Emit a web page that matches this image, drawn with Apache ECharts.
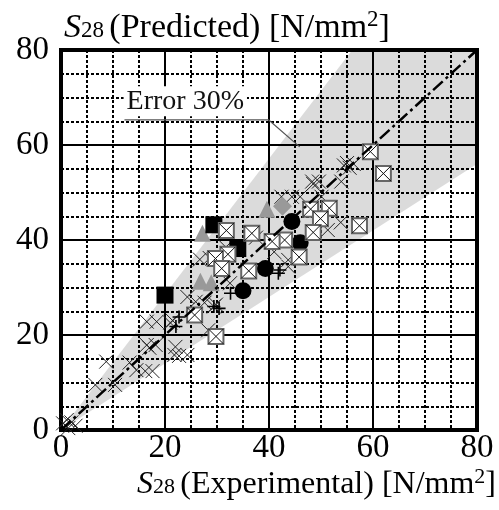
<!DOCTYPE html>
<html>
<head>
<meta charset="utf-8">
<script src="https://cdn.jsdelivr.net/npm/echarts@6/dist/echarts.min.js"></script>
<style>html,body{margin:0;padding:0;background:#fff}#c{width:499px;height:510px}</style>
</head>
<body>
<div id="c"></div>
<script>
// ---- data ----
const axisTicks = [0, 20, 40, 60, 80];
const errorBand = [[0, 0], [56, 80], [80, 80], [80, 56]];
const identityLine = [[0, 0], [80, 80]];
const leaderLine = [[12.2, 65.3], [39.9, 65.3], [45.9, 59.6]];
const labelPoint = [[23.9, 69.2]];

const crosses = [
  [0.4,1.4],[1.1,2.1],[2.0,1.6],[2.8,0.9],[1.4,0.4],
  [6.6,9.5],[10.4,9.5],[8.7,14.4],[13.2,14.2],[14.5,12.6],[16.2,12.4],[17.6,12.4],
  [16.5,17.9],[18.2,17.9],[17.0,17.3],[22.0,17.5],[21.8,15.8],[24.3,15.8],[22.7,15.6],
  [16.5,22.8],[18.4,22.8],[21.0,22.6],[21.5,23.0],
  [24.3,28.0],[25.9,27.0],[29.4,26.0],[28.3,21.0],[27.6,26.8],[29.8,26.4],
  [32.5,30.9],[26.7,35.9],[28.6,36.2],[31.7,38.5],
  [42.4,49.1],[44.4,49.1],[46.0,49.1],[50.1,49.1],[48.3,52.3],[49.6,52.3],[53.9,52.3],[48.5,51.8],
  [54.4,55.7],[55.5,55.2],[56.3,56.0],[55.0,56.2],
  [51.3,42.1],[53.8,43.7],[43.7,35.8],[43.7,34.4],[37.5,40.5],[41.0,37.5]
];
const pluses = [[42.1,33.7],[41.8,33.0],[32.6,28.8],[22.1,21.8],[30.4,25.6],[22.7,23.8],[29.4,26.0]];
const grayTriangles = [[27.2,41.4],[39.6,46.5],[26.8,31.3],[28.9,31.0]];
const grayDiamonds = [[42.6,47.1]];
const blackSquares = [[20.0,28.4],[29.4,43.2],[34.0,38.2]];
const blackCircles = [[44.4,43.9],[46.0,39.4],[39.3,34.0],[35.0,29.3]];
const boxedX = [
  [59.5,58.6],[62.0,54.0],[57.4,43.0],[51.6,46.7],[48.0,46.5],[49.9,44.5],[48.5,41.6],
  [45.8,36.4],[43.0,40.0],[40.6,39.7],[36.7,41.4],[31.8,42.0],[32.1,37.0],[29.7,36.1],
  [30.9,34.0],[36.1,33.5],[25.7,24.2],[29.8,19.7]
];

// ---- chart ----
const serif = 'Liberation Serif';
const chart = echarts.init(document.getElementById('c'));

function axis(extra) {
  return Object.assign({
    type: 'value',
    min: axisTicks[0],
    max: axisTicks[axisTicks.length - 1],
    interval: axisTicks[1] - axisTicks[0],
    axisLine: { show: false },
    axisTick: { show: false },
    splitLine: { show: true, lineStyle: { color: '#000', width: 2 } },
    minorTick: { show: false, splitNumber: 4 },
    minorSplitLine: { show: true, lineStyle: { color: '#000', width: 2, type: [3, 2] } }
  }, extra);
}

function richFor(size) {
  const sub = Math.round(size * 0.69);
  return {
    s: { fontFamily: serif, fontStyle: 'italic', fontSize: size, color: '#000', lineHeight: size + 6 },
    sub: { fontFamily: serif, fontSize: sub, color: '#000', lineHeight: sub + 2, padding: [5, 2, 0, 0] },
    n: { fontFamily: serif, fontSize: size, color: '#000', lineHeight: size + 6 },
    sup: { fontFamily: serif, fontSize: sub, color: '#000', lineHeight: sub + 1, verticalAlign: 'top' }
  };
}

const crossPath = 'path://M0,0L10,10M10,0L0,10';
const plusPath = 'path://M5,0L5,10M0,5L10,5';

chart.setOption({
  animation: false,
  grid: { left: 61, right: 18, top: 50, bottom: 80, show: true, borderColor: '#000', borderWidth: 4, backgroundColor: 'transparent' },
  xAxis: axis({
    axisLabel: { color: '#000', fontFamily: serif, fontSize: 33, margin: 2 },
    name: '{s|S}{sub|28} {n|(Experimental) [N/mm}{sup|2}{n|]}',
    nameLocation: 'end', nameGap: 19,
    nameTextStyle: { align: 'right', verticalAlign: 'top', padding: [36, 0, 0, 0], rich: richFor(32) }
  }),
  yAxis: axis({
    axisLabel: { color: '#000', fontFamily: serif, fontSize: 33, margin: 12 },
    name: '{s|S}{sub|28} {n|(Predicted) [N/mm}{sup|2}{n|]}',
    nameLocation: 'end', nameGap: 2,
    nameTextStyle: { align: 'left', verticalAlign: 'bottom', padding: [0, 0, 0, 3], rich: richFor(34) }
  }),
  series: [
    {
      type: 'custom', z: 1, silent: true, data: [[0, 0]],
      renderItem: function (params, api) {
        if (params.dataIndex !== 0) return;
        return { type: 'polygon', shape: { points: errorBand.map(p => api.coord(p)) }, style: { fill: 'rgba(0,0,0,0.14)' } };
      }
    },
    { type: 'line', z: 3, data: leaderLine, symbol: 'none', silent: true, lineStyle: { color: '#555', width: 1.2 } },
    {
      type: 'scatter', z: 4, data: labelPoint, symbolSize: 1, silent: true, itemStyle: { color: 'rgba(0,0,0,0)', opacity: 1 },
      label: { show: true, position: 'inside', formatter: 'Error 30%', fontFamily: serif, fontSize: 28, color: '#111', backgroundColor: '#fff', padding: [1, 3, 1, 3] }
    },
    { type: 'scatter', z: 5, data: crosses, symbol: crossPath, symbolSize: 14, silent: true, itemStyle: { color: 'rgba(0,0,0,0)', borderColor: '#222', borderWidth: 1, opacity: 1 } },
    { type: 'scatter', z: 6, data: pluses, symbol: plusPath, symbolSize: 13, silent: true, itemStyle: { color: 'rgba(0,0,0,0)', borderColor: '#000', borderWidth: 1.6, opacity: 1 } },
    { type: 'scatter', z: 7, data: grayTriangles, symbol: 'triangle', symbolSize: 17, silent: true, itemStyle: { color: '#999', opacity: 1 } },
    { type: 'scatter', z: 7, data: grayDiamonds, symbol: 'diamond', symbolSize: 19, silent: true, itemStyle: { color: '#999', opacity: 1 } },
    { type: 'scatter', z: 8, data: blackSquares, symbol: 'rect', symbolSize: 17, silent: true, itemStyle: { color: '#000', opacity: 1 } },
    { type: 'scatter', z: 9, data: blackCircles, symbol: 'circle', symbolSize: 17, silent: true, itemStyle: { color: '#000', opacity: 1 } },
    {
      type: 'custom', z: 10, data: boxedX, silent: true, encode: { x: 0, y: 1 },
      renderItem: function (params, api) {
        const c = api.coord([api.value(0), api.value(1)]);
        const h = 7.5;
        return {
          type: 'group', children: [
            { type: 'rect', shape: { x: c[0] - h, y: c[1] - h, width: 2 * h, height: 2 * h }, style: { fill: '#fff', stroke: '#666', lineWidth: 2 } },
            { type: 'line', shape: { x1: c[0] - h, y1: c[1] - h, x2: c[0] + h, y2: c[1] + h }, style: { stroke: '#111', lineWidth: 1 } },
            { type: 'line', shape: { x1: c[0] + h, y1: c[1] - h, x2: c[0] - h, y2: c[1] + h }, style: { stroke: '#111', lineWidth: 1 } }
          ]
        };
      }
    },
    { type: 'line', z: 12, data: identityLine, symbol: 'none', silent: true, lineStyle: { color: '#000', width: 2.5, type: [13, 4, 3, 4] } }
  ]
});
</script>
</body>
</html>
